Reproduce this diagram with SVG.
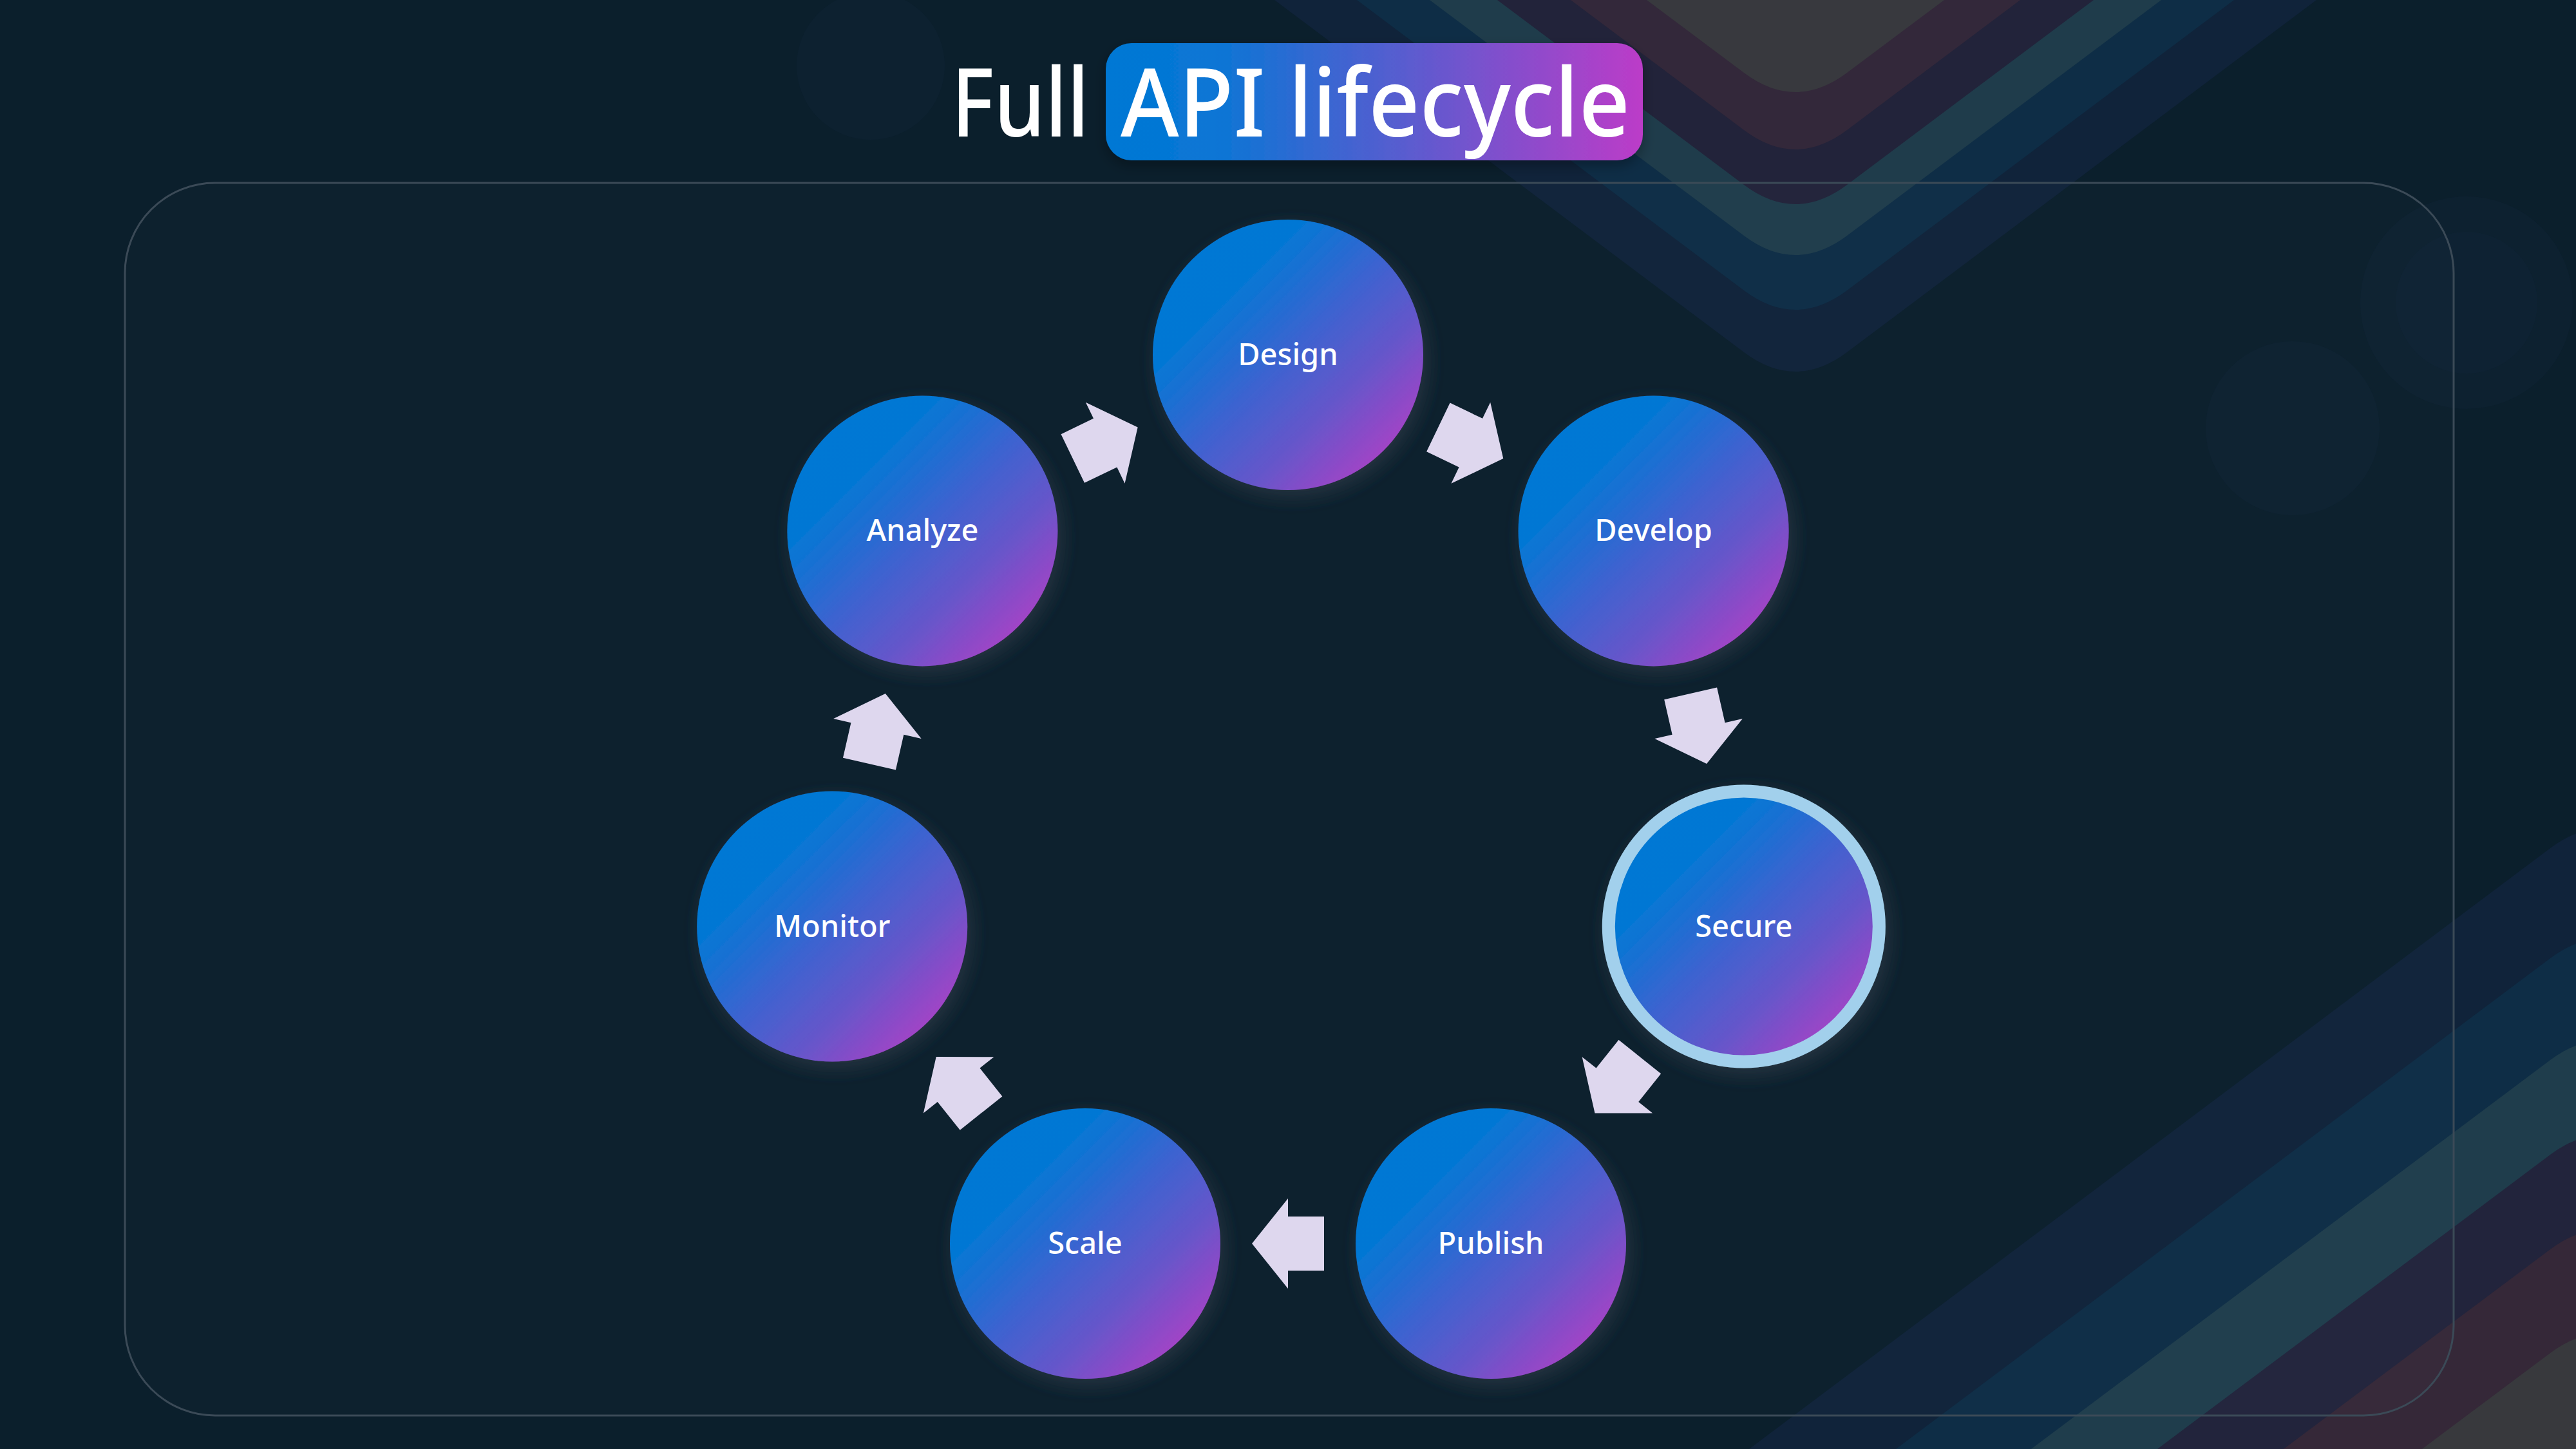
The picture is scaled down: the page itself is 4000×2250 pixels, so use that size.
<svg xmlns="http://www.w3.org/2000/svg" xmlns:xlink="http://www.w3.org/1999/xlink" width="4000" height="2250" viewBox="0 0 4000 2250">
  <defs>
    <style>
      .bg { fill: #0B1F2C; }
      .frame { fill: #ffffff; fill-opacity: 0.01; stroke: #3B4A57; stroke-width: 3; }
      .node { fill: url(#nodeGrad); filter: url(#nodeShadow); }
      .ring { stroke: #A2D0EC; stroke-width: 20; }
      .label { font-family: "Noto Sans", "Open Sans", "Liberation Sans", sans-serif; font-weight: 500; font-size: 47px; fill: #FFFFFF; text-anchor: middle; }
      .title { font-family: "Noto Sans", "Open Sans", "Liberation Sans", sans-serif; font-weight: 500; font-size: 148px; fill: #FFFFFF; }
      .arrow { fill: #DED7EE; }
      .faint { fill: #10263A; fill-opacity: 0.35; }
    </style>
    <linearGradient id="nodeGrad" x1="0.146" y1="0.146" x2="0.854" y2="0.854">
      <stop offset="0" stop-color="#0078D4"/>
      <stop offset="0.2" stop-color="#0677D4"/>
      <stop offset="0.5" stop-color="#3D63D0"/>
      <stop offset="0.75" stop-color="#6656CA"/>
      <stop offset="1" stop-color="#A044C6"/>
    </linearGradient>
    <linearGradient id="pillGrad" x1="0" y1="0" x2="1" y2="0">
      <stop offset="0" stop-color="#0078D4"/>
      <stop offset="0.2" stop-color="#0A76D5"/>
      <stop offset="1" stop-color="#BC3CC8"/>
    </linearGradient>
    <filter id="nodeShadow" x="-30%" y="-30%" width="160%" height="160%">
      <feDropShadow dx="6" dy="10" stdDeviation="14" flood-color="#2E3B47" flood-opacity="0.75"/>
    </filter>
    <filter id="pillShadow" x="-10%" y="-20%" width="120%" height="160%">
      <feDropShadow dx="0" dy="8" stdDeviation="10" flood-color="#000000" flood-opacity="0.3"/>
    </filter>
    <polygon id="arr" class="arrow" points="-56,-42 0,-42 0,-70 56,0 0,70 0,42 -56,42"/>
  </defs>

  <!-- background -->
  <rect class="bg" x="0" y="0" width="4000" height="2250"/>

  <!-- faint decorative blobs -->
  <g id="decor-blobs">
    <circle class="faint" cx="1352" cy="102" r="115"/>
    <circle class="faint" cx="3830" cy="470" r="165"/>
    <circle class="faint" cx="3830" cy="470" r="110"/>
    <circle class="faint" cx="3560" cy="665" r="135"/>
  </g>

  <!-- top chevron bands -->
  <g id="decor-top">
    <path fill="#10233A" d="M1979,0 L2708,547 Q2788,607 2868,547 L3597,0 Z"/>
    <path fill="#0E2D46" d="M2107,0 L2708,451 Q2788,511 2868,451 L3469,0 Z"/>
    <path fill="#1F3C4B" d="M2220,0 L2708,366 Q2788,426 2868,366 L3356,0 Z"/>
    <path fill="#22233A" d="M2325,0 L2708,287 Q2788,347 2868,287 L3251,0 Z"/>
    <path fill="#33283A" d="M2439,0 L2708,202 Q2788,262 2868,202 L3137,0 Z"/>
    <path fill="#38393E" d="M2557,0 L2708,113 Q2788,173 2868,113 L3019,0 Z"/>
  </g>

  <!-- bottom-right chevron bands -->
  <g id="decor-bottom">
    <path fill="#10233A" d="M2716,2250 L3960,1317 Q4040,1257 4120,1317 L4200,2250 Z"/>
    <path fill="#0E2D46" d="M2944,2250 L3960,1488 Q4040,1428 4120,1488 L4200,2250 Z"/>
    <path fill="#1F3D4C" d="M3154,2250 L3960,1646 Q4040,1586 4120,1646 L4200,2250 Z"/>
    <path fill="#22243C" d="M3350,2250 L3960,1793 Q4040,1733 4120,1793 L4200,2250 Z"/>
    <path fill="#352838" d="M3546,2250 L3960,1940 Q4040,1880 4120,1940 L4200,2250 Z"/>
    <path fill="#38393D" d="M3761,2250 L3960,2101 Q4040,2041 4120,2101 L4200,2250 Z"/>
  </g>

  <!-- frame -->
  <rect id="frame" class="frame" x="194" y="284" width="3616" height="1914" rx="140" ry="140"/>

  <!-- title -->
  <g id="title">
    <rect x="1717" y="67" width="834" height="182" rx="40" ry="40" fill="url(#pillGrad)" filter="url(#pillShadow)"/>
    <text class="title" x="1477" y="212" textLength="214" lengthAdjust="spacingAndGlyphs">Full</text>
    <text class="title" x="1740" y="212" textLength="791" lengthAdjust="spacingAndGlyphs">API lifecycle</text>
  </g>

  <!-- connectors -->
  <g id="connectors">
    <use xlink:href="#arr" href="#arr" transform="translate(2283.8,687.7) rotate(25.714)"/>
    <use xlink:href="#arr" href="#arr" transform="translate(2637.6,1131.5) rotate(77.143)"/>
    <use xlink:href="#arr" href="#arr" transform="translate(2511.4,1684.8) rotate(128.571)"/>
    <use xlink:href="#arr" href="#arr" transform="translate(2000,1931.1) rotate(180)"/>
    <use xlink:href="#arr" href="#arr" transform="translate(1488.6,1684.8) rotate(231.429)"/>
    <use xlink:href="#arr" href="#arr" transform="translate(1362.4,1131.5) rotate(282.857)"/>
    <use xlink:href="#arr" href="#arr" transform="translate(1716.2,687.7) rotate(334.286)"/>
  </g>

  <!-- nodes -->
  <g id="node-design">
    <circle class="node" cx="2000" cy="551" r="210"/>
    <text class="label" x="2000" y="567">Design</text>
  </g>
  <g id="node-develop">
    <circle class="node" cx="2567.6" cy="824.4" r="210"/>
    <text class="label" x="2567.6" y="840.4">Develop</text>
  </g>
  <g id="node-secure">
    <circle class="node ring" cx="2707.8" cy="1438.5" r="210"/>
    <text class="label" x="2707.8" y="1454.5">Secure</text>
  </g>
  <g id="node-publish">
    <circle class="node" cx="2315" cy="1931.1" r="210"/>
    <text class="label" x="2315" y="1947.1">Publish</text>
  </g>
  <g id="node-scale">
    <circle class="node" cx="1685" cy="1931.1" r="210"/>
    <text class="label" x="1685" y="1947.1">Scale</text>
  </g>
  <g id="node-monitor">
    <circle class="node" cx="1292.2" cy="1438.5" r="210"/>
    <text class="label" x="1292.2" y="1454.5">Monitor</text>
  </g>
  <g id="node-analyze">
    <circle class="node" cx="1432.4" cy="824.4" r="210"/>
    <text class="label" x="1432.4" y="840.4">Analyze</text>
  </g>
</svg>
